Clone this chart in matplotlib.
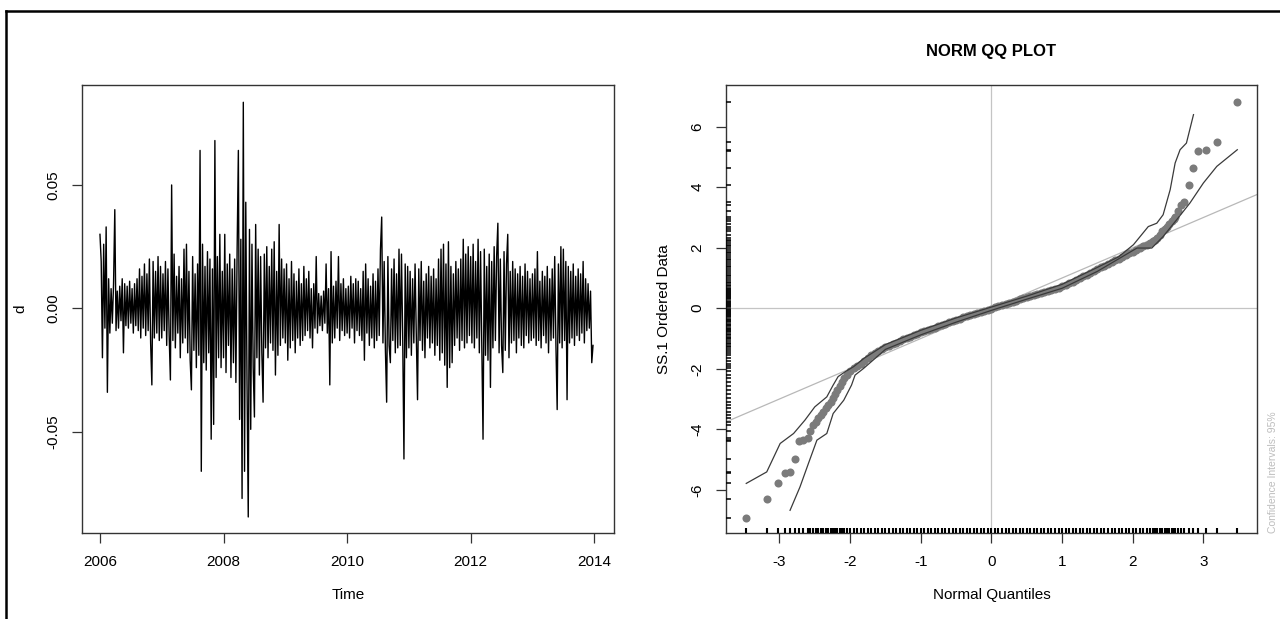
import matplotlib
matplotlib.use('Agg')
import matplotlib.pyplot as plt
import numpy as np
from matplotlib.lines import Line2D

plt.rcParams['font.family'] = ['Liberation Sans', 'DejaVu Sans']
plt.rcParams['axes.unicode_minus'] = False

# --- left panel: daily returns d ---
start_year = 2006
obs_per_year = 50
d = [
    # 2006
    0.030, 0.019, -0.020, 0.026, -0.008, 0.033, -0.034, 0.012, -0.010, 0.008,
    -0.006, 0.010, 0.040, -0.009, 0.007, -0.008, 0.009, -0.005, 0.012, -0.018,
    0.010, -0.007, 0.009, -0.008, 0.011, -0.006, 0.008, -0.010, 0.010, -0.007,
    0.012, -0.009, 0.016, -0.012, 0.013, -0.008, 0.018, -0.011, 0.014, -0.009,
    0.020, -0.014, -0.031, 0.019, -0.012, 0.015, -0.010, 0.021, -0.013, 0.017,
    # 2007
    -0.012, 0.014, -0.009, 0.019, -0.015, 0.016, -0.011, -0.029, 0.050, -0.013,
    0.022, -0.016, 0.013, -0.010, 0.017, -0.020, 0.012, -0.014, 0.024, -0.012,
    0.026, -0.018, 0.015, -0.021, -0.033, 0.021, -0.017, 0.014, -0.024, 0.018,
    -0.019, 0.064, -0.066, 0.026, -0.022, 0.017, -0.025, 0.023, -0.018, 0.020,
    -0.053, 0.016, -0.047, 0.068, -0.028, 0.021, -0.020, 0.030, -0.024, 0.015,
    # 2008
    -0.020, 0.030, -0.026, 0.018, -0.015, 0.022, -0.028, 0.016, -0.022, 0.020,
    -0.030, 0.024, 0.064, -0.045, 0.028, -0.077, 0.0835, -0.066, 0.043, -0.030,
    -0.0845, 0.032, -0.049, 0.026, -0.024, -0.044, 0.034, -0.020, 0.024, -0.027,
    0.021, -0.018, -0.038, 0.022, -0.016, 0.025, -0.020, 0.017, -0.014, 0.024,
    -0.017, 0.027, -0.027, 0.015, -0.019, 0.034, -0.015, 0.020, -0.012, 0.016,
    # 2009
    -0.014, 0.018, -0.021, 0.012, -0.016, 0.019, -0.013, 0.014, -0.018, 0.011,
    -0.012, 0.016, -0.015, 0.010, -0.013, 0.017, -0.011, 0.012, -0.009, 0.015,
    -0.012, 0.008, -0.016, 0.010, -0.008, 0.021, -0.010, 0.006, -0.007, 0.005,
    -0.009, 0.007, -0.006, 0.018, -0.010, 0.008, -0.031, 0.023, -0.014, 0.009,
    -0.012, 0.011, -0.008, 0.021, -0.013, 0.010, -0.009, 0.012, -0.011, 0.008,
    # 2010
    -0.010, 0.009, -0.012, 0.013, -0.008, 0.010, -0.014, 0.012, -0.009, 0.011,
    -0.011, 0.008, -0.013, 0.015, -0.021, 0.018, -0.010, 0.012, -0.015, 0.009,
    -0.012, 0.014, -0.016, 0.011, -0.013, 0.016, -0.011, 0.024, 0.037, -0.014,
    0.019, -0.017, -0.038, 0.021, -0.015, -0.022, 0.016, -0.013, 0.020, -0.018,
    0.014, -0.016, 0.024, -0.015, 0.022, -0.012, -0.061, 0.018, -0.020, 0.017,
    # 2011
    -0.016, 0.015, -0.019, 0.012, -0.014, 0.018, -0.011, -0.037, 0.016, -0.013,
    0.019, -0.017, 0.011, -0.020, 0.014, -0.012, 0.017, -0.016, 0.013, -0.014,
    0.016, -0.019, 0.012, -0.015, 0.020, -0.021, 0.024, -0.018, 0.026, -0.023,
    0.018, -0.032, 0.027, -0.024, 0.017, -0.022, 0.014, -0.015, 0.019, -0.012,
    0.016, -0.017, 0.020, -0.013, 0.028, -0.016, 0.022, -0.014, 0.025, -0.011,
    # 2012
    0.021, -0.014, 0.026, -0.016, 0.019, -0.012, 0.028, -0.018, 0.023, -0.015,
    -0.053, 0.024, -0.019, 0.017, -0.021, 0.022, -0.032, 0.019, -0.016, 0.025,
    -0.013, 0.021, 0.0345, -0.018, 0.020, -0.015, -0.026, 0.023, -0.017, 0.018,
    0.030, -0.020, 0.015, -0.014, 0.019, -0.013, 0.016, -0.018, 0.014, -0.012,
    0.017, -0.015, 0.013, -0.016, 0.018, -0.011, 0.015, -0.014, 0.012, -0.013,
    # 2013
    0.014, -0.012, 0.016, -0.015, 0.023, -0.013, 0.011, -0.016, 0.015, -0.011,
    0.013, -0.014, 0.017, -0.018, 0.012, -0.013, 0.016, -0.012, 0.021, -0.015,
    -0.041, 0.018, -0.014, 0.025, -0.016, 0.024, -0.013, 0.019, -0.037, 0.017,
    -0.014, 0.015, -0.012, 0.018, -0.015, 0.013, -0.011, 0.016, -0.013, 0.014,
    -0.010, 0.019, -0.014, 0.012, -0.009, 0.010, -0.008, 0.007, -0.022, -0.015,
]
year_ticks = [2006, 2008, 2010, 2012, 2014]
d_ticks = [-0.05, 0.00, 0.05]

# --- right panel: normal QQ plot of standardized SS.1 ---
qq_x = [
    -3.47, -3.18, -3.02, -2.92, -2.85, -2.78, -2.72, -2.66, -2.60, -2.57,
    -2.52, -2.48, -2.45, -2.41, -2.38, -2.34, -2.31, -2.27, -2.24, -2.21,
    -2.18, -2.15, -2.12, -2.08, -2.05,
    -2.00, -1.95, -1.90, -1.85, -1.80, -1.75, -1.70, -1.65, -1.60, -1.55,
    -1.50, -1.45, -1.40, -1.35, -1.30, -1.25, -1.20, -1.15, -1.10, -1.05,
    -1.00, -0.95, -0.90, -0.85, -0.80, -0.75, -0.70, -0.65, -0.60, -0.55,
    -0.50, -0.45, -0.40, -0.35, -0.30, -0.25, -0.20, -0.15, -0.10, -0.05,
    0.00, 0.05, 0.10, 0.15, 0.20, 0.25, 0.30, 0.35, 0.40, 0.45,
    0.50, 0.55, 0.60, 0.65, 0.70, 0.75, 0.80, 0.85, 0.90, 0.95,
    1.00, 1.05, 1.10, 1.15, 1.20, 1.25, 1.30, 1.35, 1.40, 1.45,
    1.50, 1.55, 1.60, 1.65, 1.70, 1.75, 1.80, 1.85, 1.90, 1.95, 2.00,
    2.05, 2.10, 2.15, 2.20, 2.24, 2.28, 2.31, 2.34, 2.38, 2.41,
    2.45, 2.48, 2.51, 2.55, 2.58, 2.60, 2.64, 2.69, 2.73, 2.79,
    2.85, 2.93, 3.03, 3.19, 3.48,
]
qq_y = [
    -6.92, -6.29, -5.79, -5.45, -5.42, -4.99, -4.39, -4.34, -4.29, -4.05,
    -3.86, -3.75, -3.64, -3.53, -3.42, -3.31, -3.20, -3.09, -2.98, -2.85,
    -2.71, -2.57, -2.43, -2.32, -2.21,
    -2.08, -1.99, -1.91, -1.83, -1.75, -1.65, -1.55, -1.47, -1.41, -1.35,
    -1.29, -1.24, -1.19, -1.14, -1.08, -1.03, -0.99, -0.94, -0.89, -0.85,
    -0.80, -0.76, -0.72, -0.68, -0.64, -0.59, -0.55, -0.51, -0.46, -0.42,
    -0.38, -0.34, -0.30, -0.26, -0.22, -0.19, -0.15, -0.12, -0.08, -0.05,
    -0.01, 0.03, 0.07, 0.10, 0.14, 0.17, 0.21, 0.25, 0.29, 0.33,
    0.36, 0.40, 0.43, 0.47, 0.50, 0.54, 0.57, 0.61, 0.64, 0.68,
    0.73, 0.77, 0.82, 0.87, 0.93, 0.99, 1.05, 1.11, 1.17, 1.23,
    1.29, 1.35, 1.40, 1.46, 1.52, 1.58, 1.63, 1.69, 1.75, 1.81, 1.87,
    1.93, 1.99, 2.05, 2.10, 2.15, 2.22, 2.27, 2.32, 2.43, 2.54,
    2.62, 2.70, 2.78, 2.87, 2.95, 3.03, 3.20, 3.42, 3.50, 4.09,
    4.64, 5.20, 5.23, 5.51, 6.81,
]
ci_upper_x = [-3.47, -3.18, -2.99, -2.80, -2.64, -2.50, -2.33, -2.24, -2.17, -2.07,
              -1.95, -1.80, -1.50, -1.00, -0.50, 0.00, 0.50, 1.00, 1.50, 1.80,
              2.01, 2.22, 2.34, 2.43, 2.53, 2.60, 2.67, 2.76, 2.86]
ci_upper_y = [-5.79, -5.41, -4.47, -4.14, -3.70, -3.26, -2.93, -2.54, -2.26, -2.10,
              -1.93, -1.65, -1.20, -0.73, -0.32, 0.04, 0.40, 0.79, 1.35, 1.70,
              2.10, 2.70, 2.81, 3.09, 3.92, 4.80, 5.24, 5.46, 6.40]
ci_lower_x = [-2.85, -2.71, -2.59, -2.47, -2.33, -2.24, -2.09, -1.98, -1.93, -1.81,
              -1.50, -1.00, -0.50, 0.00, 0.50, 1.00, 1.50, 2.06, 2.27, 2.43,
              2.62, 2.81, 3.00, 3.19, 3.48]
ci_lower_y = [-6.68, -5.91, -5.13, -4.36, -4.14, -3.48, -3.04, -2.54, -2.21, -1.99,
              -1.36, -0.88, -0.46, -0.07, 0.30, 0.66, 1.22, 1.99, 1.99, 2.37,
              2.92, 3.48, 4.14, 4.69, 5.24]
ref_intercept = 0.0
ref_slope = 1.0
qq_xticks = [-3, -2, -1, 0, 1, 2, 3]
qq_yticks = [-6, -4, -2, 0, 2, 4, 6]


def style_axes(ax):
    for sp in ax.spines.values():
        sp.set_color('#333333')
        sp.set_linewidth(1.0)
    ax.tick_params(axis='both', direction='out', length=7.5, width=0.9,
                   color='#333333', labelsize=11, pad=8)
    plt.setp(ax.get_yticklabels(), rotation=90, va='center')


fig = plt.figure(figsize=(12.8, 6.19), dpi=100)

# outer frame of the screenshot
fig.add_artist(Line2D([0.0047, 0.0047], [0.0, 0.9822], color='black', lw=1.8))
fig.add_artist(Line2D([0.0047, 1.0], [0.9822, 0.9822], color='black', lw=1.8))

# left: time series
ax1 = fig.add_axes([0.0641, 0.1389, 0.4156, 0.7238])
t = start_year + np.arange(len(d)) / obs_per_year
ax1.plot(t, d, color='black', lw=1.0)
ax1.set_xlim(2005.71, 2014.32)
ax1.set_ylim(-0.091, 0.0905)
ax1.set_xticks(year_ticks)
ax1.set_xticklabels([str(y) for y in year_ticks])
ax1.set_yticks(d_ticks)
ax1.set_yticklabels(['-0.05', '0.00', '0.05'])
style_axes(ax1)
ax1.set_xlabel('Time', fontsize=11, labelpad=14)
ax1.set_ylabel('d', fontsize=11, labelpad=14)

# right: normal QQ plot
ax2 = fig.add_axes([0.567, 0.1389, 0.4151, 0.7238])
ax2.set_xlim(-3.76, 3.76)
ax2.set_ylim(-7.43, 7.38)
ax2.axhline(0, color='#c4c4c4', lw=0.9, zorder=1)
ax2.axvline(0, color='#c4c4c4', lw=0.9, zorder=1)
ax2.axline((0, ref_intercept), slope=ref_slope, color='#b8b8b8', lw=0.9, zorder=1)
ax2.plot(qq_x, qq_y, 'o', color='#7b7b7b', ms=5.8, mew=0, zorder=2)
ax2.plot(ci_upper_x, ci_upper_y, color='#3a3a3a', lw=0.9, zorder=3)
ax2.plot(ci_lower_x, ci_lower_y, color='#3a3a3a', lw=0.9, zorder=3)
# rugs
ax2.vlines(qq_x, 0, 0.012, transform=ax2.get_xaxis_transform(),
           color='black', lw=1.5, zorder=4)
ax2.hlines(qq_y, 0, 0.01, transform=ax2.get_yaxis_transform(),
           color='black', lw=1.1, zorder=4)
ax2.set_xticks(qq_xticks)
ax2.set_yticks(qq_yticks)
ax2.set_xticklabels([str(v) for v in qq_xticks])
ax2.set_yticklabels([str(v) for v in qq_yticks])
style_axes(ax2)
ax2.set_xlabel('Normal Quantiles', fontsize=11, labelpad=14)
ax2.set_ylabel('SS.1 Ordered Data', fontsize=11, labelpad=14)
ax2.set_title('NORM QQ PLOT', fontsize=12, fontweight='bold', pad=21)
ax2.text(1.03, 0.0, 'Confidence Intervals: 95%', transform=ax2.transAxes,
         rotation=90, ha='center', va='bottom', fontsize=7.5, color='#bdbdbd')

fig.savefig('out.png', dpi=100)
